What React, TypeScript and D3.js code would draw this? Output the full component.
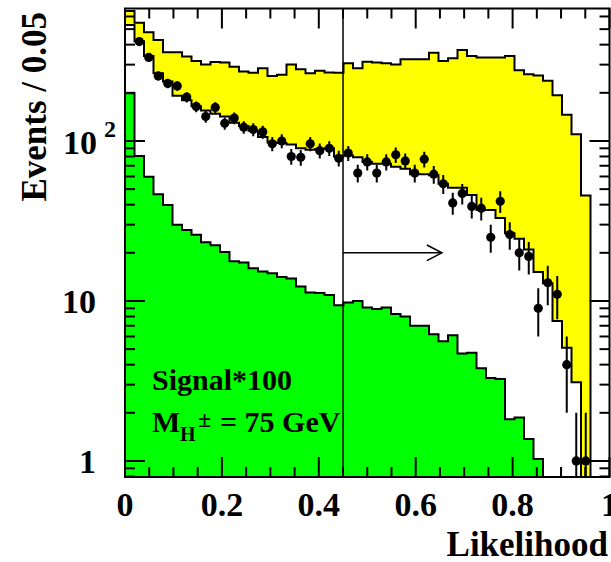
import React from 'react';
import * as d3 from 'd3';

// ---- data ----
const nBins = 51;
const binWidth = 1 / nBins;

// total background (yellow, top outline)
const totalBkg = [650, 549, 478, 428, 358, 358, 337, 316, 301, 312, 309, 291, 272, 267, 285, 255, 259, 301, 281, 265, 275, 268, 267, 306, 285, 313, 309, 306, 301, 324, 324, 324, 356, 316, 329, 371, 340, 333, 333, 333, 340, 277, 261, 257, 238, 193, 146, 110, 45.6];
// second background component (white, lower outline)
const otherBkg = [531, 420, 340, 265, 235, 192, 180, 165, 155, 148, 142, 130, 124, 116, 106, 98, 97, 95, 90, 88, 89, 90, 80, 81, 79, 74, 72, 72, 69, 67, 62, 62, 61, 54, 51, 51, 46, 37, 37, 33, 26.5, 24.5, 21, 15.2, 12.9, 7.5, 5.1, 3.1, 0];
// signal * 100 (green)
const signal = [199, 80.5, 59.8, 46.5, 39.8, 29.9, 27.8, 25.9, 23.3, 22.3, 20.2, 17.7, 17.4, 16, 15.3, 14.9, 14.1, 13.8, 12.3, 11.3, 11.2, 10.9, 9.4, 9.8, 10.0, 9.1, 8.9, 9.1, 8.3, 8.0, 7.0, 7.0, 6.2, 5.6, 6.1, 4.7, 4.75, 3.8, 3.3, 3.25, 1.82, 1.87, 1.37, 1.03];
// observed data
const dataCounts: (number | null)[] = [null, 418, 333, 255, 229, 221, 188, 164, 142, 162, 129, 139, 122, 118, 114, 96, 100, 80, 79, 96, 87, 90, 78, 84, 63, 74, 63, 74, 82, 75, 63, 77, 62, 54, 41, 47, 39, 38, 25, 42, 26, 20, 19, 9, 13, 11, 4, 1, 1];

const xMajorTicks = [0, 0.2, 0.4, 0.6, 0.8, 1];
const xTickLabels = ['0', '0.2', '0.4', '0.6', '0.8', '1'];
const yDomain = [0.794, 673];
const cutValue = 0.45;
const arrowX = [0.45, 0.654];
const arrowY = 20;

const W = 611, H = 562;
const P = { left: 125, right: 609.5, top: 8.5, bottom: 477 };
const FONT = '"Liberation Serif", "Times New Roman", serif';

export default function App() {
  const x = d3.scaleLinear().domain([0, 1]).range([P.left, P.right]);
  const y = d3.scaleLog().domain(yDomain).range([P.bottom, P.top]);

  const yv = (v: number) => (v > 0 ? Math.min(P.bottom, Math.max(P.top - 4, y(v))) : P.bottom);
  const stepPath = (vals: number[]) => {
    let d = `M${x(0)},${P.bottom}`;
    vals.forEach((v, i) => {
      const x0 = x(i * binWidth), x1 = x((i + 1) * binWidth);
      d += `L${x0},${yv(v)}L${x1},${yv(v)}`;
    });
    d += `L${x(vals.length * binWidth)},${P.bottom}Z`;
    return d;
  };

  // minor ticks
  const xMinor: number[] = d3.range(0, 21).map((i) => i * 0.05).filter((t) => Math.abs(t * 5 - Math.round(t * 5)) > 1e-6);
  const yMajor = [1, 10, 100];
  const yMinor: number[] = [];
  [0.1, 1, 10, 100].forEach((dec) => {
    for (let k = 2; k <= 9; k++) {
      const v = k * dec;
      if (v >= yDomain[0] && v <= yDomain[1]) yMinor.push(v);
    }
  });

  const tickStroke = { stroke: '#000', strokeWidth: 2 };

  return (
    <svg width={W} height={H} style={{ position: 'absolute', left: 0, top: 0, background: '#fff' }} fontFamily={FONT} fontWeight="bold">
      <defs>
        <clipPath id="plotclip">
          <rect x={P.left} y={P.top} width={P.right - P.left} height={P.bottom - P.top} />
        </clipPath>
      </defs>
      <rect x={0} y={0} width={W} height={H} fill="#fff" />
      <g clipPath="url(#plotclip)">
        <path d={stepPath(totalBkg)} fill="#ffff00" stroke="#000" strokeWidth={2} />
        <path d={stepPath(otherBkg)} fill="#ffffff" stroke="#000" strokeWidth={2} />
        <path d={stepPath(signal)} fill="#00ff00" stroke="#000" strokeWidth={2} />
        <line x1={x(cutValue)} x2={x(cutValue)} y1={P.top} y2={P.bottom} stroke="#000" strokeWidth={1.5} />
        {/* arrow */}
        <line x1={x(arrowX[0])} x2={x(arrowX[1])} y1={y(arrowY)} y2={y(arrowY)} stroke="#000" strokeWidth={1.5} />
        <path d={`M${x(arrowX[1]) - 15},${y(arrowY) - 7.8}L${x(arrowX[1])},${y(arrowY)}L${x(arrowX[1]) - 15},${y(arrowY) + 7.8}`} fill="none" stroke="#000" strokeWidth={1.5} />
        {/* data points */}
        {dataCounts.map((v, i) => {
          if (v === null || v <= 0) return null;
          const cx = x((i + 0.5) * binWidth);
          const err = Math.sqrt(v);
          const lo = v - err > 0 ? y(v - err) : P.bottom;
          const hi = y(v + err);
          return (
            <g key={i}>
              <line x1={cx} x2={cx} y1={lo} y2={hi} stroke="#000" strokeWidth={2} />
              <circle cx={cx} cy={y(v)} r={4.6} fill="#000" />
            </g>
          );
        })}
      </g>

      {/* ticks */}
      <g>
        {xMajorTicks.map((t) => (
          <g key={'xM' + t}>
            <line x1={x(t)} x2={x(t)} y1={P.bottom} y2={P.bottom - 20} {...tickStroke} />
            <line x1={x(t)} x2={x(t)} y1={P.top} y2={P.top + 20} {...tickStroke} />
          </g>
        ))}
        {xMinor.map((t) => (
          <g key={'xm' + t}>
            <line x1={x(t)} x2={x(t)} y1={P.bottom} y2={P.bottom - 10} {...tickStroke} />
            <line x1={x(t)} x2={x(t)} y1={P.top} y2={P.top + 10} {...tickStroke} />
          </g>
        ))}
        {yMajor.map((t) => (
          <g key={'yM' + t}>
            <line x1={P.left} x2={P.left + 20} y1={y(t)} y2={y(t)} {...tickStroke} />
            <line x1={P.right} x2={P.right - 20} y1={y(t)} y2={y(t)} {...tickStroke} />
          </g>
        ))}
        {yMinor.map((t) => (
          <g key={'ym' + t}>
            <line x1={P.left} x2={P.left + 10} y1={y(t)} y2={y(t)} {...tickStroke} />
            <line x1={P.right} x2={P.right - 10} y1={y(t)} y2={y(t)} {...tickStroke} />
          </g>
        ))}
      </g>
      <rect x={P.left} y={P.top} width={P.right - P.left} height={P.bottom - P.top} fill="none" stroke="#000" strokeWidth={2} />

      {/* x tick labels */}
      {xMajorTicks.map((t, i) => (
        <text key={'xl' + t} x={x(t)} y={516} textAnchor="middle" fontSize={34}>{xTickLabels[i]}</text>
      ))}
      {/* y tick labels */}
      <text x={96} y={473} textAnchor="end" fontSize={34}>1</text>
      <text x={96} y={313} textAnchor="end" fontSize={34}>10</text>
      <text x={97} y={154} textAnchor="end" fontSize={34}>10</text>
      <text x={104} y={137} fontSize={24}>2</text>

      {/* axis titles */}
      <text x={608} y={556} textAnchor="end" fontSize={35}>Likelihood</text>
      <text transform="translate(46,12) rotate(-90)" textAnchor="end" fontSize={35}>Events / 0.05</text>

      {/* annotation */}
      <text x={152} y={390} fontSize={30}>Signal*100</text>
      <text x={152} y={432} fontSize={30}>M</text>
      <text x={180} y={441} fontSize={20}>H</text>
      <text x={198} y={427} fontSize={24}>±</text>
      <text x={220} y={432} fontSize={30}>= 75 GeV</text>
    </svg>
  );
}
